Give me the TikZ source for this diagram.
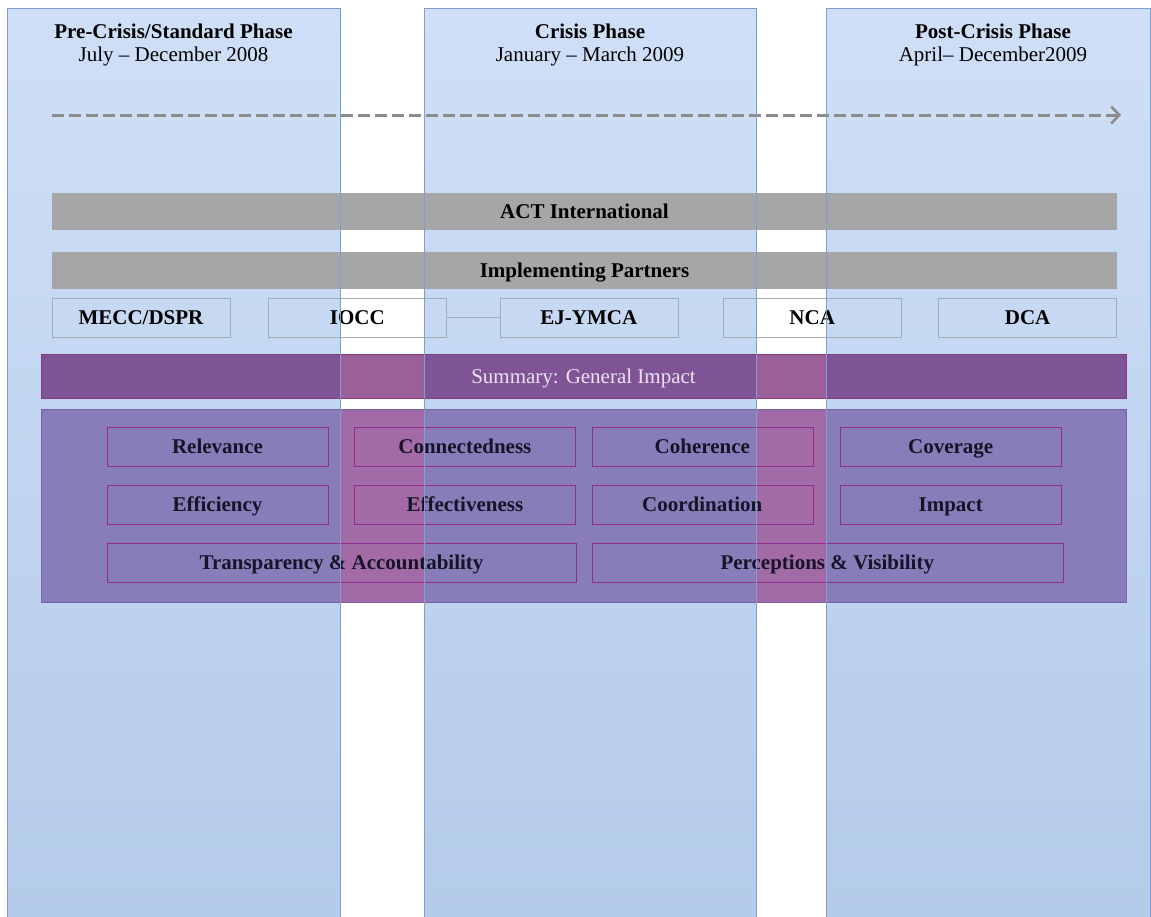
\documentclass[tikz,border=0pt]{standalone}
\usepackage{fontspec}
\setmainfont{Liberation Serif}
\usetikzlibrary{positioning,arrows.meta}

\definecolor{phtop}{RGB}{207,223,247}
\definecolor{phbot}{RGB}{180,203,233}
\definecolor{phline}{RGB}{128,158,210}
\definecolor{bargray}{RGB}{166,166,166}
\definecolor{pline}{RGB}{165,172,182}
\definecolor{sumgap}{RGB}{154,96,152}
\definecolor{sumcol}{RGB}{127,84,150}
\definecolor{sumline}{RGB}{130,60,130}
\definecolor{critgap}{RGB}{162,107,165}
\definecolor{critcol}{RGB}{136,124,185}
\definecolor{critbox}{RGB}{118,98,165}
\definecolor{critline}{RGB}{145,45,140}
\definecolor{crittext}{RGB}{22,20,40}
\definecolor{tlgray}{RGB}{140,140,140}

\tikzset{
  big/.style={font=\fontsize{21}{23}\selectfont},
  phase/.style={top color=phtop, bottom color=phbot, draw=none, inner sep=0pt},
  head/.style={big, align=center, anchor=north},
  bar/.style={fill=bargray, minimum width=1065pt, minimum height=37pt, inner sep=0pt, text height=17pt, text depth=3pt, font=\fontsize{21}{23}\selectfont\bfseries},
  partner/.style={draw=pline, minimum width=178pt, minimum height=39pt, inner sep=0pt, text height=17pt, text depth=3pt, font=\fontsize{21}{23}\selectfont\bfseries},
  crit/.style={draw=critline, minimum width=221pt, minimum height=39pt, inner sep=0pt, text height=17pt, text depth=3pt, text=crittext, font=\fontsize{21}{23}\selectfont\bfseries},
  timeline/.style={tlgray, line width=3pt, dash pattern=on 12pt off 5pt, -{Straight Barb[length=8pt,width=17pt,line width=2.6pt]}}
}

\begin{document}
\begin{tikzpicture}[x=1pt,y=-1pt]
\useasboundingbox (0,0) rectangle (1151,916);

\node[phase, minimum width=333pt, minimum height=909pt] (pre) at (173.5,462.5) {};
\node[phase, minimum width=332pt, minimum height=909pt] (cri) at (590,462.5) {};
\node[phase, minimum width=324pt, minimum height=909pt] (post) at (988,462.5) {};

\node[fill=sumgap, minimum width=1085pt, minimum height=44pt, inner sep=0pt] (sum) at (583.5,376) {};
\node[fill=critgap, minimum width=1085pt, minimum height=193pt, inner sep=0pt] (crits) at (583.5,505.5) {};
\begin{scope}
  \clip (pre.north west) rectangle (pre.south east) (cri.north west) rectangle (cri.south east)
        (post.north west) rectangle (post.south east);
  \fill[sumcol] (sum.north west) rectangle (sum.south east);
  \fill[critcol] (crits.north west) rectangle (crits.south east);
\end{scope}
\draw[sumline] (sum.north west) rectangle (sum.south east);
\draw[critbox] (crits.north west) rectangle (crits.south east);

\node[head] (h1) at (pre.north |- 0,20) {\textbf{Pre-Crisis/Standard Phase}\\July -- December 2008};
\node[head] (h2) at (cri.north |- 0,20) {\textbf{Crisis Phase}\\January -- March 2009};
\node[head] (h3) at (993,20) {\textbf{Post-Crisis Phase}\\April-- December2009};

\coordinate (t0) at (52,115);
\coordinate (t1) at (1121,115);
\draw[timeline] (t0) -- (t1);

\node[bar] (act) at (584.5,211.5) {ACT International};
\node[bar] (ip) at (584.5,270.5) {Implementing Partners};

\node[partner] (mecc) at (141,317.5) {MECC/DSPR};
\node[partner, right=38pt of mecc] (iocc) {IOCC};
\node[partner, right=53pt of iocc] (ymca) {EJ-YMCA};
\node[partner, right=45pt of ymca] (nca) {NCA};
\node[partner, right=37pt of nca] (dca) {DCA};
\draw[pline] (iocc) -- (ymca);

\node[big, text={rgb,255:red,236;green,226;blue,242}, text height=17pt, text depth=3pt, inner sep=0pt] (sumlbl) at (sum) {Summary: General Impact};

\node[crit] (rel) at (217.5,446.5) {Relevance};
\node[crit, right=26pt of rel] (con) {Connectedness};
\node[crit, right=16pt of con] (coh) {Coherence};
\node[crit, right=27pt of coh] (cov) {Coverage};
\node[crit, below=19pt of rel] (eff) {Efficiency};
\node[crit, below=19pt of con] (eft) {Effectiveness};
\node[crit, below=19pt of coh] (coo) {Coordination};
\node[crit, below=19pt of cov] (imp) {Impact};
\node[crit, minimum width=469pt, below=18pt of eff.south west, anchor=north west] (tra) {Transparency \& Accountability};
\node[crit, minimum width=471pt, below=18pt of coo.south west, anchor=north west] (per) {Perceptions \& Visibility};

\foreach \p in {pre,cri,post}
  \draw[phline] (\p.north west) rectangle (\p.south east);
\end{tikzpicture}
\end{document}
